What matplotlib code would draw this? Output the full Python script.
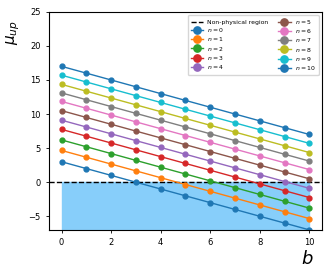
import matplotlib

matplotlib.use("Agg")
import matplotlib.pyplot as plt

# b values on the x axis
b_values = [0, 1, 2, 3, 4, 5, 6, 7, 8, 9, 10]

# mu_up for each level n
mu_n0 = [3.0, 2.0, 1.0, 0.0, -1.0, -2.0, -3.0, -4.0, -5.0, -6.0, -7.0]
mu_n1 = [4.66, 3.66, 2.66, 1.66, 0.66, -0.34, -1.34, -2.34, -3.34, -4.34, -5.34]
mu_n2 = [6.2, 5.2, 4.2, 3.2, 2.2, 1.2, 0.2, -0.8, -1.8, -2.8, -3.8]
mu_n3 = [7.75, 6.75, 5.75, 4.75, 3.75, 2.75, 1.75, 0.75, -0.25, -1.25, -2.25]
mu_n4 = [9.1, 8.1, 7.1, 6.1, 5.1, 4.1, 3.1, 2.1, 1.1, 0.1, -0.9]
mu_n5 = [10.5, 9.5, 8.5, 7.5, 6.5, 5.5, 4.5, 3.5, 2.5, 1.5, 0.5]
mu_n6 = [11.85, 10.85, 9.85, 8.85, 7.85, 6.85, 5.85, 4.85, 3.85, 2.85, 1.85]
mu_n7 = [13.1, 12.1, 11.1, 10.1, 9.1, 8.1, 7.1, 6.1, 5.1, 4.1, 3.1]
mu_n8 = [14.35, 13.35, 12.35, 11.35, 10.35, 9.35, 8.35, 7.35, 6.35, 5.35, 4.35]
mu_n9 = [15.7, 14.7, 13.7, 12.7, 11.7, 10.7, 9.7, 8.7, 7.7, 6.7, 5.7]
mu_n10 = [17.0, 16.0, 15.0, 14.0, 13.0, 12.0, 11.0, 10.0, 9.0, 8.0, 7.0]

mu_levels = [mu_n0, mu_n1, mu_n2, mu_n3, mu_n4, mu_n5,
             mu_n6, mu_n7, mu_n8, mu_n9, mu_n10]
n_labels = [f"$n = {n}$" for n in range(len(mu_levels))]

Y_MIN, Y_MAX = -7, 25

fig = plt.figure(figsize=(3.3, 2.75), dpi=100)
ax = fig.add_axes([0.149, 0.164, 0.826, 0.793])

ax.axhline(0, color="black", linestyle="--", linewidth=1.0,
           label="Non-physical region")
ax.fill_between(b_values, Y_MIN, 0, color="lightskyblue", zorder=0)

for mu, label in zip(mu_levels, n_labels):
    ax.plot(b_values, mu, marker="o", markersize=3.5, linewidth=1.0,
            label=label)

ax.set_ylim(Y_MIN, Y_MAX)
ax.set_yticks([-5, 0, 5, 10, 15, 20, 25])
ax.set_xticks([0, 2, 4, 6, 8, 10])
ax.tick_params(labelsize=6, length=2.5, width=0.6)
for spine in ax.spines.values():
    spine.set_linewidth(0.8)

ax.set_xlabel("$b$", fontsize=13, loc="right")
ax.xaxis.set_label_coords(0.97, -0.09)
ax.set_ylabel(r"$\mu_{up}$", fontsize=11, loc="top")
ax.yaxis.set_label_coords(-0.098, 0.96)

ax.legend(ncol=2, fontsize=4.4, loc="upper right", markerscale=1.5,
          handlelength=2.0, columnspacing=1.6, labelspacing=0.2,
          borderpad=0.5, handletextpad=0.7)

fig.savefig("out.png", dpi=100)
